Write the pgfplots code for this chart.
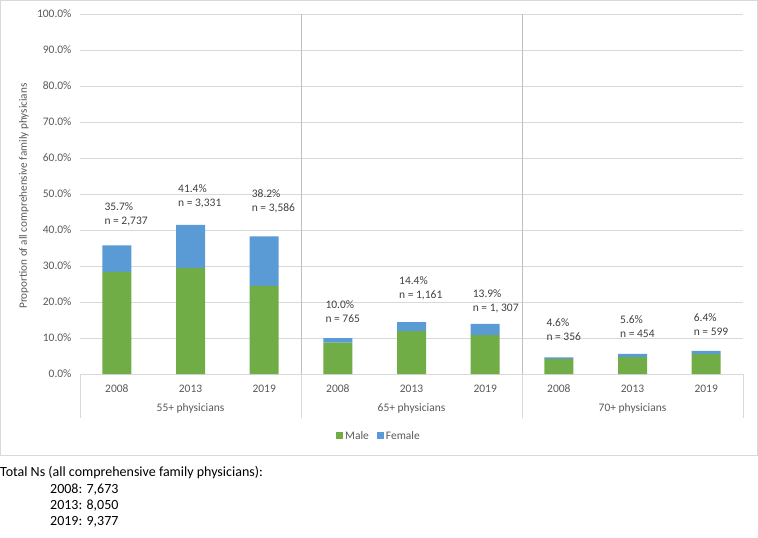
\documentclass[border=0pt]{standalone}
\usepackage{pgfplots}
\pgfplotsset{compat=1.18}
\usepackage{fontspec}
\setmainfont{Carlito}
\definecolor{male}{HTML}{70AD47}
\definecolor{female}{HTML}{5B9BD5}
\definecolor{gridc}{HTML}{D9D9D9}
\definecolor{sepc}{HTML}{BFBFBF}
\definecolor{tickc}{HTML}{595959}
\definecolor{lblc}{HTML}{404040}
\begin{document}
\begin{tikzpicture}[x=1pt,y=1pt]
\useasboundingbox (0,0) rectangle (758,-538);
\draw[gridc, line width=0.75pt] (0.5,-0.5) rectangle (757,-455);
\begin{axis}[
  at={(80pt,-374pt)}, anchor=south west,
  scale only axis, width=663pt, height=360pt,
  xmin=-0.5, xmax=8.5, ymin=0, ymax=100,
  ybar stacked, bar width=29pt,
  clip=false,
  axis x line*=bottom, axis y line*=left,
  y axis line style={draw=none},
  x axis line style={gridc, line width=0.75pt, -},
  ymajorgrids, grid style={gridc, line width=0.75pt},
  major tick length=0pt,
  ytick={0,10,...,100},
  yticklabel={\pgfmathprintnumber[fixed,fixed zerofill,precision=1]{\tick}\%},
  /pgf/number format/assume math mode=true,
  xtick={0,...,8},
  xticklabels={2008,2013,2019,2008,2013,2019,2008,2013,2019},
  tick label style={font=\fontsize{11.5}{13}\selectfont, color=tickc},
  xticklabel style={yshift=-7pt},
  yticklabel style={xshift=-5pt},
  legend style={at={(0.451,-0.172)}, anchor=center, draw=none, fill=none,
    legend columns=2, font=\fontsize{11.5}{13}\selectfont, text=tickc,
    /tikz/every even column/.append style={column sep=6pt},
    inner sep=0pt},
]
\addplot[fill=male, draw=none, legend image code/.code={\fill[male] (0pt,-3.5pt) rectangle (7pt,3.5pt);}] table[x=x, y=male] {
x male
0 28.4
1 29.5
2 24.5
3 8.7
4 11.9
5 10.8
6 4.2
7 4.7
8 5.5
};
\addplot[fill=female, draw=none, legend image code/.code={\fill[female] (0pt,-3.5pt) rectangle (7pt,3.5pt);}] table[x=x, y=female] {
x female
0 7.3
1 11.9
2 13.7
3 1.3
4 2.5
5 3.1
6 0.4
7 0.9
8 0.9
};
\legend{Male,Female}
% separators
\draw[sepc, line width=0.75pt] (axis cs:2.5,100) -- (axis cs:2.5,0);
\draw[sepc, line width=0.75pt] (axis cs:5.5,100) -- (axis cs:5.5,0);
\draw[gridc, line width=0.75pt] (axis cs:-0.5,0) -- ([yshift=-44pt]axis cs:-0.5,0);
\draw[gridc, line width=0.75pt] (axis cs:2.5,0) -- ([yshift=-44pt]axis cs:2.5,0);
\draw[gridc, line width=0.75pt] (axis cs:5.5,0) -- ([yshift=-44pt]axis cs:5.5,0);
\draw[gridc, line width=0.75pt] (axis cs:8.5,0) -- ([yshift=-44pt]axis cs:8.5,0);
% group labels
\node[font=\fontsize{11.5}{13}\selectfont, text=tickc] at (axis cs:1,0) [yshift=-34pt] {55+ physicians};
\node[font=\fontsize{11.5}{13}\selectfont, text=tickc] at (axis cs:4,0) [yshift=-34pt] {65+ physicians};
\node[font=\fontsize{11.5}{13}\selectfont, text=tickc] at (axis cs:7,0) [yshift=-34pt] {70+ physicians};
% data labels
\node[anchor=west, align=left, inner sep=0pt, text=lblc, font=\fontsize{11.5}{14}\selectfont] at (axis cs:-0.17,44.4) {35.7\%\\n = 2,737};
\node[anchor=west, align=left, inner sep=0pt, text=lblc, font=\fontsize{11.5}{14}\selectfont] at (axis cs:0.83,49.4) {41.4\%\\n = 3,331};
\node[anchor=west, align=left, inner sep=0pt, text=lblc, font=\fontsize{11.5}{14}\selectfont] at (axis cs:1.83,47.9) {38.2\%\\n = 3,586};
\node[anchor=west, align=left, inner sep=0pt, text=lblc, font=\fontsize{11.5}{14}\selectfont] at (axis cs:2.83,17.2) {10.0\%\\n = 765};
\node[anchor=west, align=left, inner sep=0pt, text=lblc, font=\fontsize{11.5}{14}\selectfont] at (axis cs:3.83,23.7) {14.4\%\\n = 1,161};
\node[anchor=west, align=left, inner sep=0pt, text=lblc, font=\fontsize{11.5}{14}\selectfont] at (axis cs:4.83,20.2) {13.9\%\\n = 1, 307};
\node[anchor=west, align=left, inner sep=0pt, text=lblc, font=\fontsize{11.5}{14}\selectfont] at (axis cs:5.83,12.4) {4.6\%\\n = 356};
\node[anchor=west, align=left, inner sep=0pt, text=lblc, font=\fontsize{11.5}{14}\selectfont] at (axis cs:6.83,13.1) {5.6\%\\n = 454};
\node[anchor=west, align=left, inner sep=0pt, text=lblc, font=\fontsize{11.5}{14}\selectfont] at (axis cs:7.83,13.75) {6.4\%\\n = 599};
\end{axis}
\node[rotate=90, text=tickc, font=\fontsize{11.2}{13}\selectfont] at (24,-196) {Proportion of all comprehensive family physicians};
\begin{scope}[every node/.style={anchor=west, inner sep=0pt, font=\fontsize{14}{16}\selectfont}]
\node at (0,-473) {Total Ns (all comprehensive family physicians):};
\node at (50,-490) {2008: 7,673};
\node at (50,-506) {2013: 8,050};
\node at (50,-522) {2019: 9,377};
\end{scope}
\end{tikzpicture}
\end{document}
